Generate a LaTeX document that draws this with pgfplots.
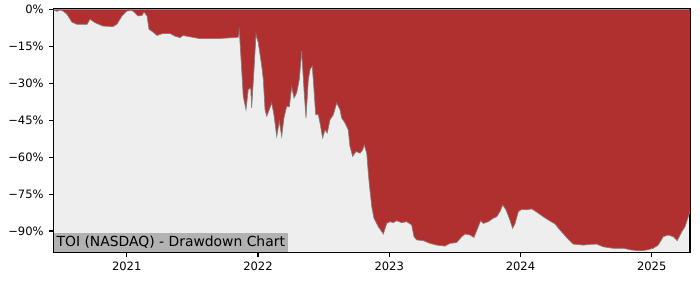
\documentclass[border=0pt]{standalone}
\usepackage{fontspec}
\setmainfont{DejaVu Sans}
\usepackage{pgfplots}
\pgfplotsset{compat=1.18}
\definecolor{ddred}{RGB}{176,48,48}
\definecolor{bgray}{RGB}{238,238,238}
\definecolor{boxgray}{RGB}{178,178,178}
\begin{document}
\begin{tikzpicture}
\begin{axis}[
  scale only axis,
  width=458.4pt, height=175.9pt,
  xmin=2020.441, xmax=2025.292,
  ymin=-98.66, ymax=0.5,
  axis background/.style={fill=bgray},
  axis line style={black, line width=0.8pt},
  tick style={black, line width=0.8pt},
  tick align=outside,
  major tick length=3.5pt,
  xtick pos=bottom, ytick pos=left,
  xtick={2021,2022,2023,2024,2025},
  xticklabels={2021,2022,2023,2024,2025},
  ytick={0,-15,-30,-45,-60,-75,-90},
  yticklabels={0\%,−15\%,−30\%,−45\%,−60\%,−75\%,−90\%},
  tick label style={font=\fontsize{8.3}{10}\selectfont},
  clip=true,
]
\addplot[fill=ddred, draw=none] coordinates {
(2020.441,0)
(2020.441,-0.3)(2020.469,-0.8)(2020.492,-0.3)(2020.515,-0.7)(2020.545,-2)(2020.583,-5.2)
(2020.621,-6.1)(2020.698,-6.1)(2020.720,-4)(2020.758,-5.4)(2020.819,-6.8)(2020.896,-7)
(2020.926,-6)(2020.964,-2.7)(2021.002,-0.7)(2021.040,-0.5)(2021.063,-1.4)(2021.086,-2.7)
(2021.117,-2.5)(2021.132,-1.1)(2021.155,-2.7)(2021.170,-8.1)(2021.200,-9.2)(2021.231,-10.6)
(2021.277,-9.8)(2021.330,-9.8)(2021.368,-10.9)(2021.406,-11.5)(2021.429,-10.6)(2021.467,-11)
(2021.558,-11.9)(2021.688,-11.9)(2021.810,-11.5)(2021.850,-11.3)(2021.858,-8.4)(2021.876,-24.4)
(2021.888,-35.3)(2021.909,-40.7)(2021.926,-32.6)(2021.945,-31.9)(2021.952,-40)(2021.970,-24.4)
(2021.985,-10.2)(2022.003,-13.6)(2022.029,-23)(2022.041,-28.5)(2022.054,-40.7)(2022.067,-43.4)
(2022.086,-40.7)(2022.105,-38)(2022.122,-42.8)(2022.143,-51.6)(2022.163,-45.5)(2022.181,-51.6)
(2022.198,-44.1)(2022.219,-39.4)(2022.239,-39.6)(2022.257,-31.5)(2022.275,-36)(2022.295,-33.9)
(2022.315,-28.5)(2022.333,-17)(2022.351,-32.6)(2022.366,-44.1)(2022.384,-28.5)(2022.397,-24.4)
(2022.414,-23)(2022.427,-32.6)(2022.440,-42.8)(2022.460,-42.8)(2022.473,-46.1)(2022.493,-52.2)
(2022.511,-48.9)(2022.528,-50.2)(2022.549,-44.8)(2022.574,-42.8)(2022.600,-38)(2022.625,-40.7)
(2022.638,-44.1)(2022.663,-46.1)(2022.688,-48.9)(2022.701,-55.6)(2022.722,-59.7)(2022.747,-57.7)
(2022.778,-58.4)(2022.798,-57)(2022.810,-55)(2022.829,-58.4)(2022.841,-66.5)(2022.848,-70.6)
(2022.867,-80)(2022.884,-84.8)(2022.917,-88.2)(2022.955,-91.2)(2022.981,-86.9)(2023.006,-86.2)
(2023.031,-86.6)(2023.057,-85.8)(2023.095,-86.6)(2023.133,-86.2)(2023.171,-87.5)(2023.189,-92.3)
(2023.210,-93.6)(2023.260,-93.9)(2023.311,-95)(2023.362,-95.7)(2023.425,-96.1)(2023.463,-95)
(2023.514,-94.7)(2023.552,-92.3)(2023.578,-91.2)(2023.616,-91.6)(2023.646,-92.6)(2023.679,-88.2)
(2023.697,-85.8)(2023.717,-86.9)(2023.755,-86.2)(2023.793,-84.8)(2023.819,-84.2)(2023.844,-82.1)
(2023.865,-79.4)(2023.890,-81.4)(2023.915,-84.8)(2023.941,-88.9)(2023.959,-86.9)(2023.984,-82.1)
(2024.010,-81.2)(2024.048,-81.4)(2024.086,-81)(2024.124,-82.3)(2024.174,-84.2)(2024.212,-85.5)
(2024.263,-87.1)(2024.301,-89.6)(2024.352,-92.6)(2024.403,-95.3)(2024.479,-95.7)(2024.530,-95.4)
(2024.581,-95.3)(2024.631,-96.4)(2024.707,-97)(2024.784,-97)(2024.848,-97.7)(2024.911,-98)
(2024.962,-97.7)(2025.012,-97)(2025.050,-95.7)(2025.088,-92.3)(2025.126,-91.6)(2025.165,-92.3)
(2025.195,-93.9)(2025.229,-90.3)(2025.254,-88.2)(2025.279,-84.2)(2025.292,-82)
(2025.292,0)
} -- cycle;
\addplot[draw=gray, line width=0.5pt] coordinates {
(2020.441,-0.3)(2020.469,-0.8)(2020.492,-0.3)(2020.515,-0.7)(2020.545,-2)(2020.583,-5.2)
(2020.621,-6.1)(2020.698,-6.1)(2020.720,-4)(2020.758,-5.4)(2020.819,-6.8)(2020.896,-7)
(2020.926,-6)(2020.964,-2.7)(2021.002,-0.7)(2021.040,-0.5)(2021.063,-1.4)(2021.086,-2.7)
(2021.117,-2.5)(2021.132,-1.1)(2021.155,-2.7)(2021.170,-8.1)(2021.200,-9.2)(2021.231,-10.6)
(2021.277,-9.8)(2021.330,-9.8)(2021.368,-10.9)(2021.406,-11.5)(2021.429,-10.6)(2021.467,-11)
(2021.558,-11.9)(2021.688,-11.9)(2021.810,-11.5)(2021.850,-11.3)(2021.858,-8.4)(2021.876,-24.4)
(2021.888,-35.3)(2021.909,-40.7)(2021.926,-32.6)(2021.945,-31.9)(2021.952,-40)(2021.970,-24.4)
(2021.985,-10.2)(2022.003,-13.6)(2022.029,-23)(2022.041,-28.5)(2022.054,-40.7)(2022.067,-43.4)
(2022.086,-40.7)(2022.105,-38)(2022.122,-42.8)(2022.143,-51.6)(2022.163,-45.5)(2022.181,-51.6)
(2022.198,-44.1)(2022.219,-39.4)(2022.239,-39.6)(2022.257,-31.5)(2022.275,-36)(2022.295,-33.9)
(2022.315,-28.5)(2022.333,-17)(2022.351,-32.6)(2022.366,-44.1)(2022.384,-28.5)(2022.397,-24.4)
(2022.414,-23)(2022.427,-32.6)(2022.440,-42.8)(2022.460,-42.8)(2022.473,-46.1)(2022.493,-52.2)
(2022.511,-48.9)(2022.528,-50.2)(2022.549,-44.8)(2022.574,-42.8)(2022.600,-38)(2022.625,-40.7)
(2022.638,-44.1)(2022.663,-46.1)(2022.688,-48.9)(2022.701,-55.6)(2022.722,-59.7)(2022.747,-57.7)
(2022.778,-58.4)(2022.798,-57)(2022.810,-55)(2022.829,-58.4)(2022.841,-66.5)(2022.848,-70.6)
(2022.867,-80)(2022.884,-84.8)(2022.917,-88.2)(2022.955,-91.2)(2022.981,-86.9)(2023.006,-86.2)
(2023.031,-86.6)(2023.057,-85.8)(2023.095,-86.6)(2023.133,-86.2)(2023.171,-87.5)(2023.189,-92.3)
(2023.210,-93.6)(2023.260,-93.9)(2023.311,-95)(2023.362,-95.7)(2023.425,-96.1)(2023.463,-95)
(2023.514,-94.7)(2023.552,-92.3)(2023.578,-91.2)(2023.616,-91.6)(2023.646,-92.6)(2023.679,-88.2)
(2023.697,-85.8)(2023.717,-86.9)(2023.755,-86.2)(2023.793,-84.8)(2023.819,-84.2)(2023.844,-82.1)
(2023.865,-79.4)(2023.890,-81.4)(2023.915,-84.8)(2023.941,-88.9)(2023.959,-86.9)(2023.984,-82.1)
(2024.010,-81.2)(2024.048,-81.4)(2024.086,-81)(2024.124,-82.3)(2024.174,-84.2)(2024.212,-85.5)
(2024.263,-87.1)(2024.301,-89.6)(2024.352,-92.6)(2024.403,-95.3)(2024.479,-95.7)(2024.530,-95.4)
(2024.581,-95.3)(2024.631,-96.4)(2024.707,-97)(2024.784,-97)(2024.848,-97.7)(2024.911,-98)
(2024.962,-97.7)(2025.012,-97)(2025.050,-95.7)(2025.088,-92.3)(2025.126,-91.6)(2025.165,-92.3)
(2025.195,-93.9)(2025.229,-90.3)(2025.254,-88.2)(2025.279,-84.2)(2025.292,-82)
};
\node[fill=boxgray, anchor=south west, inner xsep=2.2pt, inner ysep=2.5pt,
      font=\fontsize{10}{12}\selectfont] at (rel axis cs:0,0) {TOI (NASDAQ) - Drawdown Chart};
\end{axis}
\pgfresetboundingbox
\useasboundingbox (current axis.south west) ++(-38.4pt,-19.9pt) rectangle ++(504pt,201.6pt);
\end{tikzpicture}
\end{document}
